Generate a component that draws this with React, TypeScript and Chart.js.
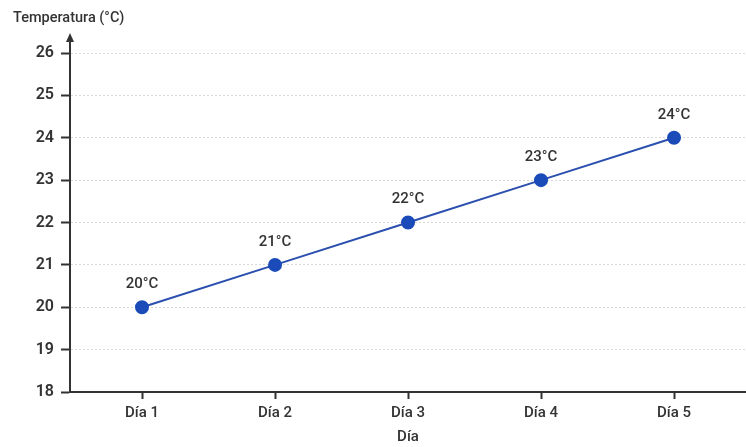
import React, { useEffect, useRef } from "react";
import Chart from "chart.js/auto";

const dayLabels = ["Día 1", "Día 2", "Día 3", "Día 4", "Día 5"];
const dayIndex = [1, 2, 3, 4, 5];
const temperatures = [20, 21, 22, 23, 24];

const yTitle = "Temperatura (°C)";
const xTitle = "Día";

const textColor = "#333333";
const fontFamily = "Roboto, 'Liberation Sans', sans-serif";

// Etiquetas de valor sobre cada punto
const valueLabelsPlugin = {
  id: "valueLabels",
  afterDatasetsDraw(chart: any) {
    const { ctx } = chart;
    const meta = chart.getDatasetMeta(0);
    ctx.save();
    ctx.font = `500 15px ${fontFamily}`;
    ctx.fillStyle = textColor;
    ctx.textAlign = "center";
    ctx.textBaseline = "middle";
    meta.data.forEach((pt: any, i: number) => {
      ctx.fillText(`${temperatures[i]}°C`, pt.x, pt.y - 23);
    });
    ctx.restore();
  },
};

// Flecha del eje Y y título superior
const axisDecorPlugin = {
  id: "axisDecor",
  afterDraw(chart: any) {
    const { ctx, chartArea } = chart;
    const x = chartArea.left;
    ctx.save();
    ctx.strokeStyle = textColor;
    ctx.fillStyle = textColor;
    ctx.lineWidth = 2;
    ctx.beginPath();
    ctx.moveTo(x, chartArea.top);
    ctx.lineTo(x, 40);
    ctx.stroke();
    ctx.beginPath();
    ctx.moveTo(x, 33);
    ctx.lineTo(x - 4, 42);
    ctx.lineTo(x + 4, 42);
    ctx.closePath();
    ctx.fill();
    ctx.font = `500 14.5px ${fontFamily}`;
    ctx.textAlign = "left";
    ctx.textBaseline = "middle";
    ctx.fillText(yTitle, 13, 18);
    ctx.restore();
  },
};

const TemperatureChart: React.FC = () => {
  const chartRef = useRef<HTMLCanvasElement>(null);
  const chartInstanceRef = useRef<Chart | null>(null);

  useEffect(() => {
    document.body.style.margin = "0";
    if (!chartRef.current) return;
    if (chartInstanceRef.current) chartInstanceRef.current.destroy();

    chartInstanceRef.current = new Chart(chartRef.current, {
      type: "line",
      data: {
        datasets: [
          {
            data: dayIndex.map((d, i) => ({ x: d, y: temperatures[i] })),
            borderColor: "#2a4fae",
            borderWidth: 2,
            pointBackgroundColor: "#1a4bb8",
            pointBorderColor: "#1a4bb8",
            pointRadius: 6,
            tension: 0,
          },
        ],
      },
      options: {
        responsive: false,
        animation: false,
        layout: {
          autoPadding: false,
          padding: { top: 53, right: 0, left: 0, bottom: 1 },
        },
        plugins: {
          legend: { display: false },
          tooltip: { enabled: false },
        },
        scales: {
          x: {
            type: "linear",
            min: 0.4586,
            max: 5.541,
            afterBuildTicks: (scale: any) => {
              scale.ticks = dayIndex.map((v) => ({ value: v }));
            },
            ticks: {
              autoSkip: false,
              maxRotation: 0,
              callback: (value: any) => dayLabels[Number(value) - 1] ?? "",
              color: textColor,
              font: { family: fontFamily, size: 15, weight: 500 },
              padding: 5,
            },
            grid: {
              drawOnChartArea: false,
              drawTicks: true,
              tickLength: 7,
              tickColor: textColor,
              tickWidth: 2,
            },
            border: { color: textColor, width: 2 },
            title: {
              display: true,
              text: xTitle,
              color: textColor,
              font: { family: fontFamily, size: 15, weight: 500 },
              padding: { top: 1, bottom: 0 },
            },
          },
          y: {
            min: 18,
            max: 26,
            ticks: {
              stepSize: 1,
              color: textColor,
              font: { family: fontFamily, size: 16, weight: 600 },
              padding: 7,
            },
            grid: {
              color: "#d9d9d9",
              lineWidth: 1,
              tickLength: 9,
              tickColor: textColor,
              tickWidth: 2,
              tickBorderDash: [],
            },
            border: { color: textColor, width: 2, dash: [2, 2] },
            afterFit: (scale: any) => {
              scale.width = 70;
            },
          },
        },
      },
      plugins: [valueLabelsPlugin, axisDecorPlugin],
    });

    return () => {
      if (chartInstanceRef.current) {
        chartInstanceRef.current.destroy();
        chartInstanceRef.current = null;
      }
    };
  }, []);

  return (
    <div style={{ width: 746, height: 447, background: "#ffffff" }}>
      <canvas ref={chartRef} width={746} height={447} />
    </div>
  );
};

export default function App() {
  return <TemperatureChart />;
}
